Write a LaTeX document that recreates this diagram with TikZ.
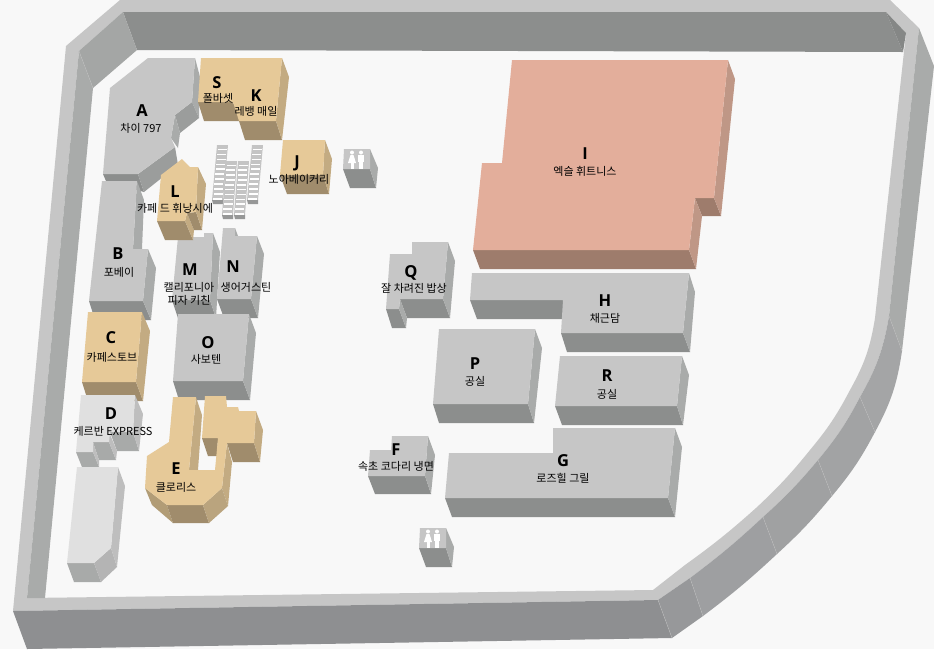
\documentclass[tikz,border=0pt]{standalone}
\usepackage{fontspec}
\setmainfont{Open Sans}
\newfontfamily\cjk{Noto Sans CJK KR}
\usetikzlibrary{calc}
\definecolor{floorbg}{HTML}{F8F8F8}
\begin{document}
\begin{tikzpicture}[
        x=1pt, y=-1pt,
        roofgray/.style = {fill={rgb,255:red,198;green,198;blue,198}},
        frontgray/.style = {fill={rgb,255:red,140;green,142;blue,141}},
        sidegray/.style = {fill={rgb,255:red,169;green,171;blue,170}},
        roofsand/.style = {fill={rgb,255:red,230;green,201;blue,152}},
        frontsand/.style = {fill={rgb,255:red,160;green,140;blue,108}},
        sidesand/.style = {fill={rgb,255:red,195;green,171;blue,130}},
        roofgym/.style = {fill={rgb,255:red,227;green,174;blue,155}},
        frontgym/.style = {fill={rgb,255:red,158;green,124;blue,108}},
        sidegym/.style = {fill={rgb,255:red,191;green,151;blue,134}},
        roofpale/.style = {fill={rgb,255:red,224;green,224;blue,224}},
        frontpale/.style = {fill={rgb,255:red,168;green,170;blue,169}},
        sidepale/.style = {fill={rgb,255:red,190;green,190;blue,190}},
        seam/.style = {draw={rgb,255:red,190;green,190;blue,190}, line width=0.3pt},
        letter/.style = {font=\fontsize{16.5}{17}\selectfont\bfseries, text=black, inner sep=0pt},
        shop/.style = {font=\cjk\fontsize{11}{13}\selectfont, text=black, inner sep=0pt, align=center}
    ]
    \useasboundingbox (0,0) rectangle (934,649);
    \fill[floorbg] (0,0) rectangle (934,649);

    % Outer wall
    \fill[roofgray, even odd rule] (120,0) -- (890,0) -- (919,28) -- (889,316) to[bend left=10] (860,397) to[bend left=6] (818,460) to[bend left=4] (763,517) to[bend left=3] (690,578) -- (658,600) -- (13,611) -- (66,46) -- cycle
        (123,12) -- (886,12) -- (906,33) -- (875,318) to[bend left=10] (850,390) to[bend left=6] (810,450) to[bend left=4] (756,508) to[bend left=3] (685,565) -- (653,590) -- (27,598) -- (79,51) -- cycle;
    \fill[frontgray] (123,12) -- (886,12) -- (903,52) -- (137,50) -- cycle;
    \fill[fill={rgb,255:red,133;green,135;blue,134}] (886,12) -- (906,33) -- (903,52) -- cycle;
    \fill[fill={rgb,255:red,164;green,166;blue,165}] (123,12) -- (137,50) -- (93,88) -- (79,51) -- cycle;
    \fill[sidegray] (79,51) -- (93,88) -- (45,598) -- (27,598) -- cycle;
    \fill[fill={rgb,255:red,142;green,143;blue,145}] (13,611) -- (658,600) -- (672,638) -- (27,649) -- cycle;
    \fill[sidegray] (919,28) -- (934,66) -- (902,351) -- (889,316) -- cycle;
    \fill[fill={rgb,255:red,164;green,165;blue,166}] (889,316) -- (902,351) to[bend left=10] (875,432) -- (860,397) to[bend right=10] cycle;
    \fill[fill={rgb,255:red,162;green,163;blue,164}] (860,397) -- (875,432) to[bend left=6] (832,496) -- (818,460) to[bend right=6] cycle;
    \fill[fill={rgb,255:red,160;green,161;blue,162}] (818,460) -- (832,496) to[bend left=4] (777,554) -- (763,517) to[bend right=4] cycle;
    \fill[fill={rgb,255:red,158;green,159;blue,161}] (763,517) -- (777,554) to[bend left=3] (703,616) -- (690,578) to[bend right=3] cycle;
    \fill[fill={rgb,255:red,151;green,152;blue,154}] (690,578) -- (703,616) -- (672,638) -- (658,600) -- cycle;
    \draw[seam] (79,51) -- (93,88);
    \draw[seam] (889,316) -- (902,351);
    \draw[seam] (860,397) -- (875,432);
    \draw[seam] (818,460) -- (832,496);
    \draw[seam] (763,517) -- (777,554);
    \draw[seam] (690,578) -- (703,616);
    \draw[seam] (658,600) -- (672,638);

    % A
    \fill[frontgray] (103,174) -- (106,181) -- (144,192) -- (138,174) -- cycle;
    \fill[fill={rgb,255:red,155;green,157;blue,156}] (138,174) -- (144,192) -- (178,165) -- (175,147) -- cycle;
    \fill[sidegray] (195,58) -- (200,77) -- (199,118) -- (192,102) -- cycle;
    \fill[fill={rgb,255:red,155;green,157;blue,156}] (192,102) -- (199,118) -- (180,133) -- (175,115) -- cycle;
    \fill[sidegray] (175,115) -- (180,133) -- (178,148) -- (171,138) -- cycle;
    \fill[roofgray] (110,88) -- (148,58) -- (195,58) -- (192,102) -- (175,115) -- (171,138) -- (175,147) -- (138,174) -- (103,174) -- cycle;

    % S and K
    \fill[frontsand] (198,102) -- (204,121) -- (240,121) -- (233,102) -- cycle;
    \fill[frontsand] (239,121) -- (245,140) -- (282,140) -- (276,121) -- cycle;
    \fill[sidesand] (282,58) -- (289,77) -- (282,140) -- (276,121) -- cycle;
    \fill[roofsand] (201,58) -- (282,58) -- (276,121) -- (239,121) -- (233,102) -- (198,102) -- cycle;

    % J
    \fill[frontsand] (280,175) -- (287,194) -- (329,194) -- (323,175) -- cycle;
    \fill[sidesand] (325,140) -- (332,159) -- (329,194) -- (323,175) -- cycle;
    \fill[roofsand] (283,140) -- (325,140) -- (323,175) -- (280,175) -- cycle;

    % B
    \fill[frontgray] (89,301) -- (95,320) -- (151,320) -- (143,301) -- cycle;
    \fill[sidegray] (137,181) -- (144,200) -- (142,249) -- (133,249) -- cycle;
    \fill[sidegray] (148,249) -- (156,268) -- (151,320) -- (143,301) -- cycle;
    \fill[roofgray] (102,181) -- (137,181) -- (133,249) -- (148,249) -- (143,301) -- (89,301) -- cycle;

    % M and N
    \fill[frontgray] (172,300) -- (178,318) -- (216,318) -- (210,300) -- cycle;
    \fill[sidegray] (213,233) -- (220,252) -- (216,318) -- (210,300) -- cycle;
    \fill[roofgray] (178,237) -- (204,237) -- (204,233) -- (213,233) -- (210,300) -- (172,300) -- cycle;
    \fill[frontgray] (217,299) -- (224,318) -- (258,318) -- (251,299) -- cycle;
    \fill[sidegray] (257,236) -- (264,254) -- (258,318) -- (251,299) -- cycle;
    \fill[sidegray] (235,228) -- (238,236) -- (233,236) -- cycle;
    \fill[roofgray] (223,228) -- (235,228) -- (235,236) -- (257,236) -- (251,299) -- (217,299) -- cycle;

    % L
    \fill[frontsand] (157,221) -- (165,240) -- (193,240) -- (185,221) -- cycle;
    \fill[sidesand] (185,221) -- (193,240) -- (194,230) -- (187,213) -- cycle;
    \fill[frontsand] (187,213) -- (194,230) -- (202,230) -- (196,212) -- cycle;
    \fill[sidesand] (198,167) -- (206,184) -- (202,230) -- (196,212) -- cycle;
    \fill[roofsand] (161,175) -- (182,159) -- (190,167) -- (198,167) -- (196,212) -- (187,213) -- (185,221) -- (157,221) -- cycle;

    % Stairs
    \foreach \tx/\ty/\bx/\by in {217/145/212/200, 252/145/247/200, 226/161/222/215, 238/161/234/215} {
        \fill[fill={rgb,255:red,196;green,196;blue,196}] (\tx,\ty) -- (\tx+11,\ty) -- (\bx+11,\by) -- (\bx,\by) -- cycle;
        \fill[fill={rgb,255:red,150;green,151;blue,151}] (\bx,\by) -- (\bx+1,\by+4) -- (\bx+11,\by+4) -- (\bx+11,\by) -- cycle;
        \foreach \t in {0.08,0.17,...,0.99} {
            \draw[white, line width=1.5pt] ($(\tx,\ty)!\t!(\bx,\by)+(1,0)$) -- ++(9,0);
        }
    }

    % C, D and the annex below D
    \fill[frontsand] (82,382) -- (88,401) -- (143,401) -- (136,382) -- cycle;
    \fill[sidesand] (142,312) -- (150,331) -- (143,401) -- (136,382) -- cycle;
    \fill[roofsand] (88,312) -- (142,312) -- (136,382) -- (82,382) -- cycle;
    \fill[frontpale] (110,432) -- (117,451) -- (139,451) -- (133,432) -- cycle;
    \fill[sidepale] (135,395) -- (143,414) -- (139,451) -- (133,432) -- cycle;
    \fill[frontpale] (93,442) -- (99,460) -- (116,460) -- (109,442) -- cycle;
    \fill[sidepale] (109,432) -- (117,451) -- (116,460) -- (109,442) -- cycle;
    \fill[frontpale] (76,452) -- (82,467) -- (99,467) -- (93,452) -- cycle;
    \fill[sidepale] (93,442) -- (99,460) -- (99,467) -- (93,452) -- cycle;
    \fill[roofpale] (81,395) -- (135,395) -- (133,432) -- (110,432) -- (109,442) -- (93,442) -- (93,452) -- (76,452) -- cycle;
    \fill[frontpale] (67,563) -- (74,582) -- (101,582) -- (94,563) -- cycle;
    \fill[fill={rgb,255:red,180;green,180;blue,180}] (94,563) -- (101,582) -- (117,567) -- (111,548) -- cycle;
    \fill[sidepale] (118,467) -- (125,486) -- (117,567) -- (111,548) -- cycle;
    \fill[roofpale] (77,467) -- (118,467) -- (111,548) -- (94,563) -- (67,563) -- cycle;

    % O
    \fill[frontgray] (173,381) -- (179,400) -- (250,400) -- (243,381) -- cycle;
    \fill[sidegray] (249,314) -- (256,333) -- (250,400) -- (243,381) -- cycle;
    \fill[roofgray] (178,314) -- (249,314) -- (243,381) -- (173,381) -- cycle;

    % E
    \fill[sidesand] (196,397) -- (202,415) -- (198,470) -- (189,470) -- cycle;
    \fill[frontsand] (202,438) -- (208,456) -- (217,456) -- (218,438) -- cycle;
    \fill[frontsand] (227,443) -- (233,462) -- (260,462) -- (254,443) -- cycle;
    \fill[sidesand] (256,411) -- (263,430) -- (260,462) -- (254,443) -- cycle;
    \fill[sidesand] (227,443) -- (232,462) -- (228,506) -- (222,488) -- cycle;
    \fill[fill={rgb,255:red,177;green,156;blue,118}] (145,488) -- (152,505) -- (173,523) -- (167,505) -- cycle;
    \fill[frontsand] (167,505) -- (173,523) -- (209,523) -- (203,505) -- cycle;
    \fill[fill={rgb,255:red,186;green,164;blue,126}] (203,505) -- (209,523) -- (228,506) -- (222,488) -- cycle;
    \fill[roofsand] (173,397) -- (196,397) -- (189,470) -- (215,470) -- (218,438) -- (202,438) -- (205,396) -- (226,396) -- (227,407) -- (238,407) -- (239,411) -- (256,411) -- (254,443) -- (227,443) -- (222,488) -- (203,505) -- (167,505) -- (145,488) -- (147,456) -- (169,442) -- cycle;

    % Q
    \fill[frontgray] (400,299) -- (407,318) -- (450,318) -- (443,299) -- cycle;
    \fill[frontgray] (386,309) -- (392,328) -- (406,328) -- (399,309) -- cycle;
    \fill[sidegray] (399,309) -- (400,299) -- (407,318) -- (406,328) -- cycle;
    \fill[sidegray] (448,242) -- (455,261) -- (450,318) -- (443,299) -- cycle;
    \fill[roofgray] (412,242) -- (448,242) -- (443,299) -- (400,299) -- (399,309) -- (386,309) -- (390,254) -- (412,254) -- cycle;

    % I
    \fill[frontgym] (473,250) -- (480,269) -- (696,269) -- (689,250) -- cycle;
    \fill[frontgym] (695,198) -- (702,216) -- (721,216) -- (714,198) -- cycle;
    \fill[sidegym] (728,60) -- (735,79) -- (721,216) -- (714,198) -- cycle;
    \fill[sidegym] (695,198) -- (702,216) -- (696,269) -- (689,250) -- cycle;
    \fill[roofgym] (512,60) -- (728,60) -- (714,198) -- (695,198) -- (689,250) -- (473,250) -- (482,163) -- (502,163) -- cycle;

    % H
    \fill[frontgray] (470,300) -- (477,319) -- (563,319) -- (563,300) -- cycle;
    \fill[frontgray] (561,333) -- (567,352) -- (690,352) -- (683,333) -- cycle;
    \fill[sidegray] (689,273) -- (695,292) -- (690,352) -- (683,333) -- cycle;
    \fill[roofgray] (472,273) -- (689,273) -- (683,333) -- (561,333) -- (563,300) -- (470,300) -- cycle;

    % P
    \fill[frontgray] (433,404) -- (439,423) -- (534,423) -- (528,404) -- cycle;
    \fill[sidegray] (535,329) -- (542,348) -- (534,423) -- (528,404) -- cycle;
    \fill[roofgray] (439,329) -- (535,329) -- (528,404) -- (433,404) -- cycle;

    % R
    \fill[frontgray] (555,406) -- (562,425) -- (683,425) -- (677,406) -- cycle;
    \fill[sidegray] (682,356) -- (689,375) -- (683,425) -- (677,406) -- cycle;
    \fill[roofgray] (560,356) -- (682,356) -- (677,406) -- (555,406) -- cycle;

    % G
    \fill[frontgray] (445,498) -- (452,517) -- (675,517) -- (668,498) -- cycle;
    \fill[sidegray] (675,428) -- (682,447) -- (675,517) -- (668,498) -- cycle;
    \fill[roofgray] (553,428) -- (675,428) -- (668,498) -- (445,498) -- (449,453) -- (553,453) -- cycle;

    % F
    \fill[frontgray] (368,476) -- (375,494) -- (431,494) -- (425,476) -- cycle;
    \fill[sidegray] (428,436) -- (435,455) -- (431,494) -- (425,476) -- cycle;
    \fill[roofgray] (392,436) -- (428,436) -- (425,476) -- (368,476) -- (370,450) -- (391,450) -- cycle;

    % Toilets
    \foreach \wx/\wy/\ww in {344/149/26, 420/528/26} {
        \fill[frontgray] (\wx-1,\wy+20) -- (\wx+6,\wy+39) -- (\wx+32,\wy+39) -- (\wx+\ww,\wy+20) -- cycle;
        \fill[sidegray] (\wx+\ww,\wy) -- (\wx+\ww+8,\wy+19) -- (\wx+32,\wy+39) -- (\wx+\ww,\wy+20) -- cycle;
        \fill[roofgray] (\wx,\wy) -- (\wx+\ww,\wy) -- (\wx+\ww,\wy+20) -- (\wx-1,\wy+20) -- cycle;
        % woman
        \fill[white] (\wx+8,\wy+3.5) circle (2);
        \fill[white] (\wx+6.5,\wy+6) -- (\wx+9.5,\wy+6) -- (\wx+12,\wy+14) -- (\wx+4,\wy+14) -- cycle;
        \fill[white] (\wx+6.5,\wy+14) rectangle (\wx+9.5,\wy+19.5);
        % man
        \fill[white] (\wx+17,\wy+3.5) circle (2);
        \fill[white] (\wx+14,\wy+6) rectangle (\wx+20,\wy+13);
        \fill[white] (\wx+15,\wy+13) rectangle (\wx+19,\wy+19.5);
    }

    % Labels
    \node[letter] (letterA) at (142,111) {A};
    \node[shop] (shopA) at (141,128) {차이 797};
    \node[letter] (letterS) at (217,83) {S};
    \node[shop] (shopS) at (218,98) {폴바셋};
    \node[letter] (letterK) at (256,96) {K};
    \node[shop] (shopK) at (256,111) {레뱅 매일};
    \node[letter] (letterB) at (118,254) {B};
    \node[shop] (shopB) at (119,272) {포베이};
    \node[letter] (letterL) at (175,192) {L};
    \node[shop] (shopL) at (175,208) {카페 드 휘낭시에};
    \node[letter] (letterM) at (190,270) {M};
    \node[shop] (shopM) at (189,294) {캘리포니아\\피자 키친};
    \node[letter] (letterN) at (233,267) {N};
    \node[shop] (shopN) at (246,287) {생어거스틴};
    \node[letter] (letterJ) at (297,163) {J};
    \node[shop] (shopJ) at (299,179) {노아베이커리};
    \node[letter] (letterC) at (111,338) {C};
    \node[shop] (shopC) at (112,357) {카페스토브};
    \node[letter] (letterD) at (111,414) {D};
    \node[shop] (shopD) at (113,431) {케르반 EXPRESS};
    \node[letter] (letterE) at (176,469) {E};
    \node[shop] (shopE) at (176,487) {클로리스};
    \node[letter] (letterO) at (208,343) {O};
    \node[shop] (shopO) at (206,359) {사보텐};
    \node[letter] (letterF) at (396,450) {F};
    \node[shop] (shopF) at (396,466) {속초 코다리 냉면};
    \node[letter] (letterG) at (563,461) {G};
    \node[shop] (shopG) at (563,478) {로즈힐 그릴};
    \node[letter] (letterH) at (605,301) {H};
    \node[shop] (shopH) at (605,318) {채근담};
    \node[letter] (letterI) at (585,154) {I};
    \node[shop] (shopI) at (585,171) {엑슬 휘트니스};
    \node[letter] (letterP) at (475,364) {P};
    \node[shop] (shopP) at (475,381) {공실};
    \node[letter] (letterQ) at (411,273) {Q};
    \node[shop] (shopQ) at (414,288) {잘 차려진 밥상};
    \node[letter] (letterR) at (607,376) {R};
    \node[shop] (shopR) at (607,394) {공실};

\end{tikzpicture}
\end{document}
